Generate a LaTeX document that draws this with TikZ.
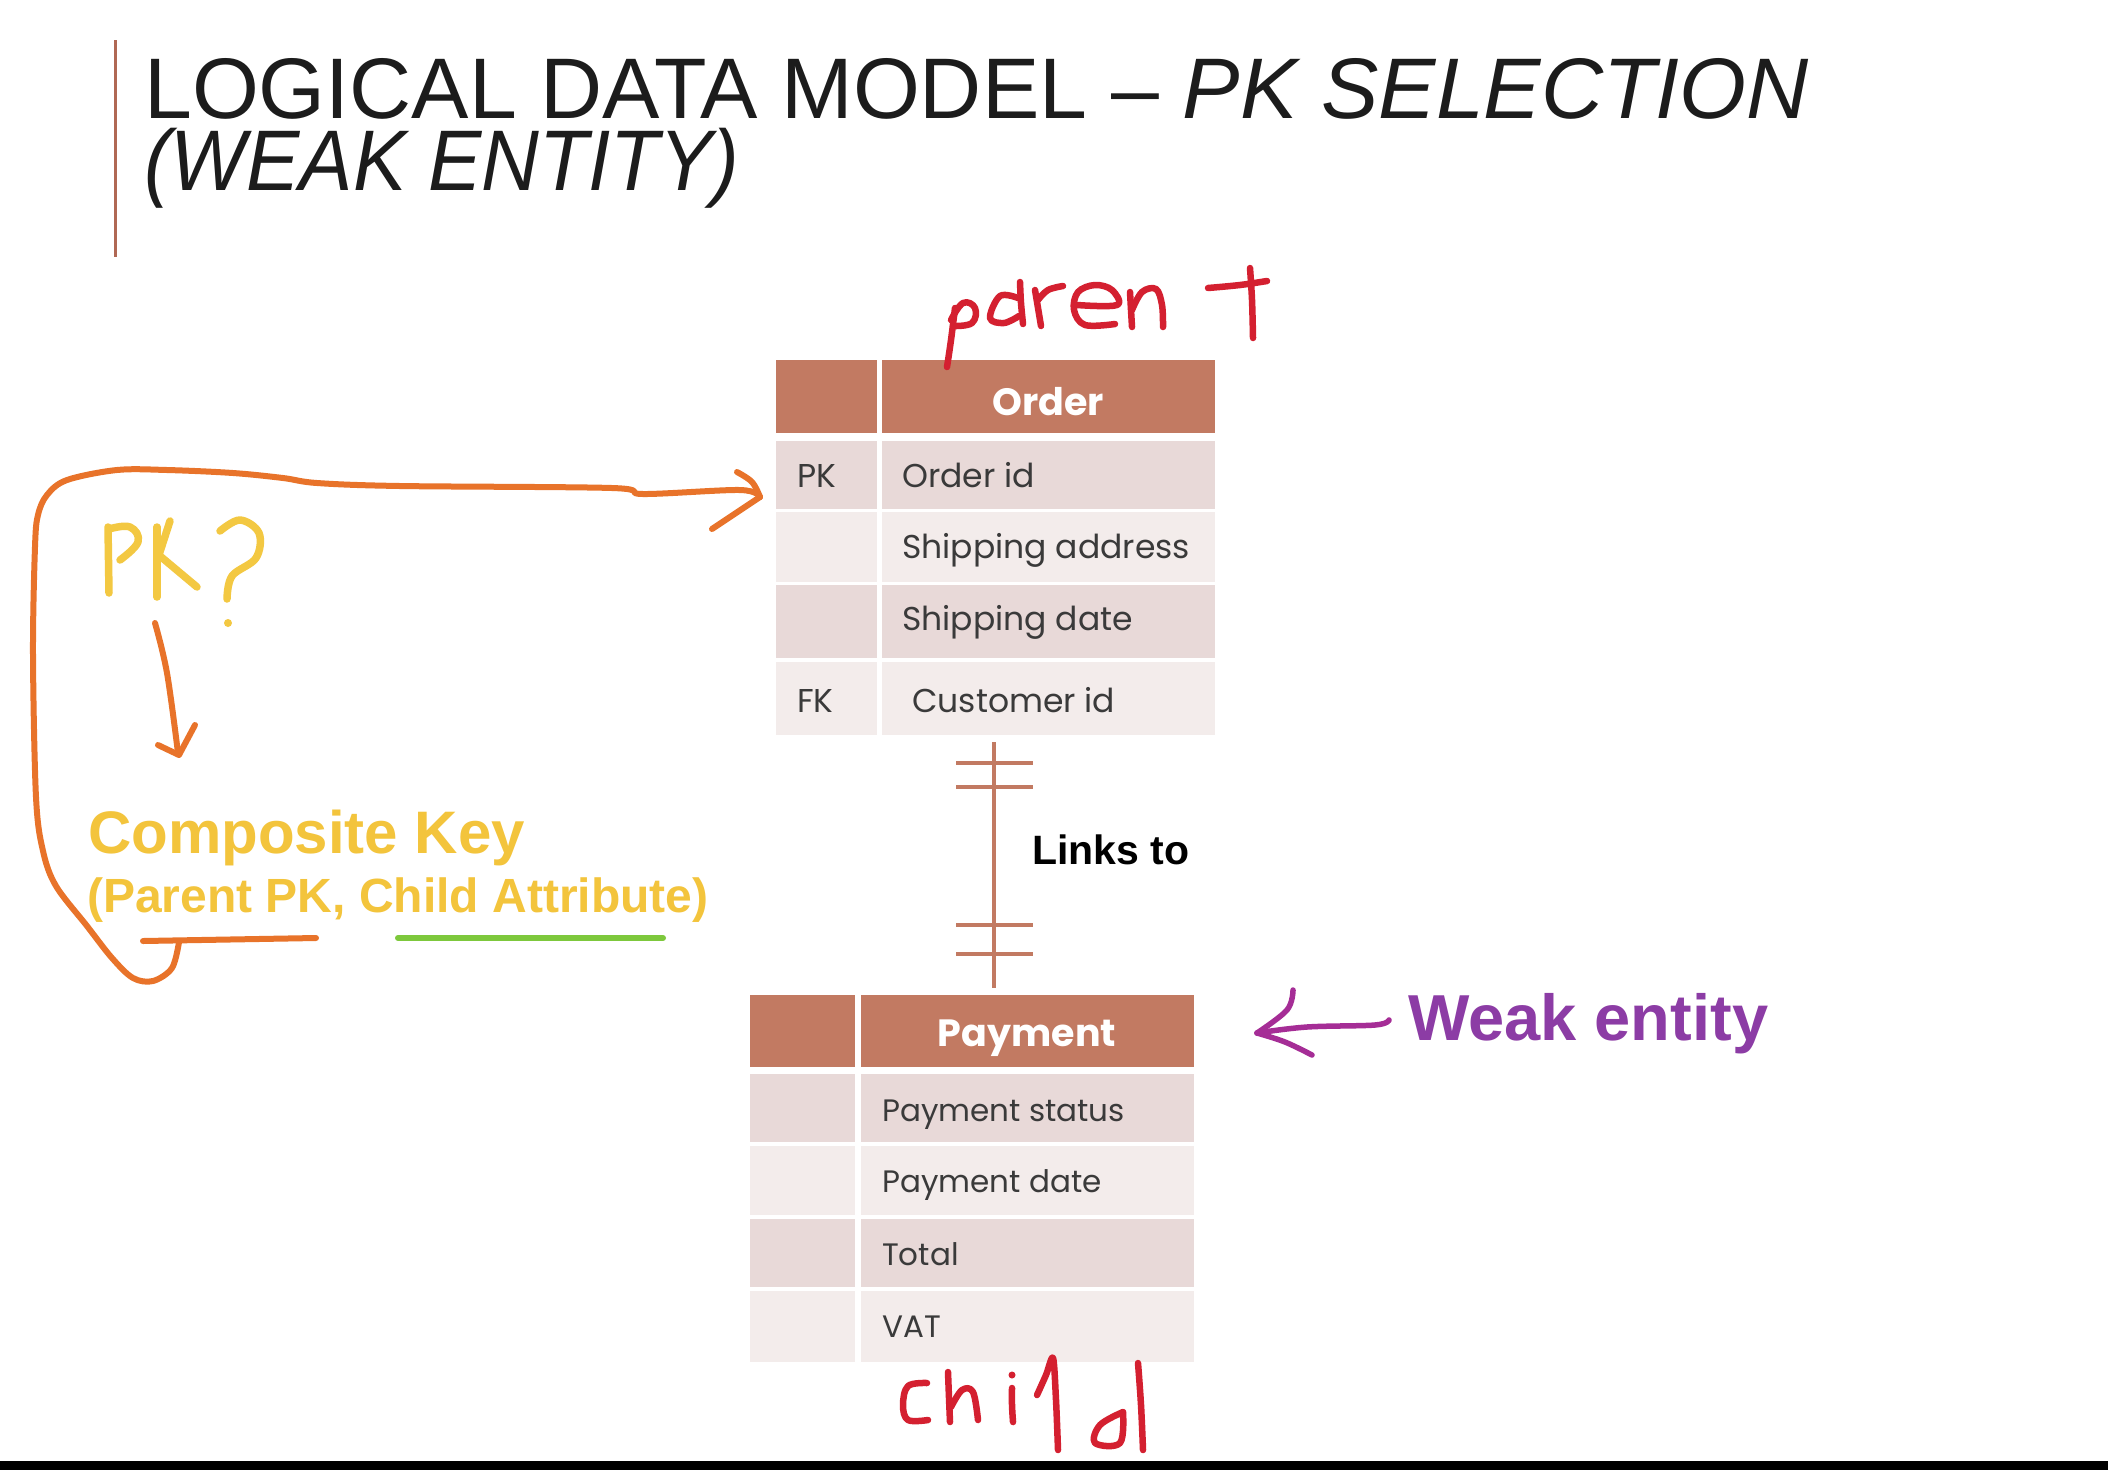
\documentclass[tikz,border=0pt]{standalone}
\usepackage{fontspec}
\setmainfont{Liberation Sans}
\newfontfamily\tabfont{Poppins}
\usetikzlibrary{calc}

\definecolor{hdr}{RGB}{194,122,98}
\definecolor{rowdark}{RGB}{232,217,216}
\definecolor{rowlight}{RGB}{243,236,235}
\definecolor{celltext}{RGB}{58,58,58}
\definecolor{titletext}{RGB}{28,28,28}
\definecolor{rulebrown}{RGB}{176,104,84}
\definecolor{penred}{RGB}{212,32,48}
\definecolor{penorange}{RGB}{232,115,42}
\definecolor{penyellow}{RGB}{243,200,66}
\definecolor{pengreen}{RGB}{125,200,60}
\definecolor{penpurple}{RGB}{165,45,150}
\definecolor{weakpurple}{RGB}{140,60,165}
\definecolor{keyyellow}{RGB}{243,196,60}

\newcommand{\fsz}[1]{\fontsize{#1}{#1}\selectfont}

\begin{document}
\begin{tikzpicture}[x=1pt,y=-1pt,
  cell/.style={draw=none, inner sep=0pt, outer sep=0pt, anchor=north west},
  hdrcell/.style={cell, fill=hdr},
  darkcell/.style={cell, fill=rowdark},
  lightcell/.style={cell, fill=rowlight},
  hdrtext/.style={text=white, font=\tabfont\bfseries\fsz{38}, anchor=base, inner sep=0pt},
  rowtext/.style={text=celltext, font=\tabfont\fsz{33}, anchor=base west, inner sep=0pt},
  prowtext/.style={rowtext, font=\tabfont\fsz{31}},
  erline/.style={draw=hdr, line width=3.5pt},
  pen/.style={line width=6.5pt, line cap=round, line join=round},
]
\useasboundingbox (0,0) rectangle (2108,1470);
\fill[white] (0,0) rectangle (2108,1470);
\fill[black] (0,1461) rectangle (2108,1470);

% ---------- title ----------
\draw[rulebrown, line width=3pt] (115,40) -- (115,257);
\node[anchor=base west, inner sep=0pt, text=titletext, font=\fsz{86}] (title) at (144,118)
  {\vtop{\baselineskip=72pt\lineskiplimit=-\maxdimen
     \hbox{LOGICAL DATA MODEL -- \textit{PK SELECTION}}
     \hbox{\scalebox{0.93}[1]{\itshape (WEAK ENTITY)}}}};

% ---------- Order table ----------
\node[hdrcell, minimum width=101pt, minimum height=73pt] (oh0) at (776,360) {};
\node[hdrcell, minimum width=333pt, minimum height=73pt] (oh1) at (882,360) {};
\node[hdrtext] (ohT) at (1048,415) {Order};

\node[darkcell,  minimum width=101pt, minimum height=68pt] (o1k) at (776,441) {};
\node[darkcell,  minimum width=333pt, minimum height=68pt] (o1v) at (882,441) {};
\node[lightcell, minimum width=101pt, minimum height=70pt] (o2k) at (776,512) {};
\node[lightcell, minimum width=333pt, minimum height=70pt] (o2v) at (882,512) {};
\node[darkcell,  minimum width=101pt, minimum height=73pt] (o3k) at (776,585) {};
\node[darkcell,  minimum width=333pt, minimum height=73pt] (o3v) at (882,585) {};
\node[lightcell, minimum width=101pt, minimum height=73pt] (o4k) at (776,662) {};
\node[lightcell, minimum width=333pt, minimum height=73pt] (o4v) at (882,662) {};

\node[rowtext] (o1kT) at (797,487) {PK};
\node[rowtext] (o1vT) at (902,487) {Order id};
\node[rowtext] (o2vT) at (902,558) {Shipping address};
\node[rowtext] (o3vT) at (902,630) {Shipping date};
\node[rowtext] (o4kT) at (797,712) {FK};
\node[rowtext] (o4vT) at (912,712) {Customer id};

% ---------- Payment table ----------
\node[hdrcell, minimum width=105pt, minimum height=72pt] (ph0) at (750,995) {};
\node[hdrcell, minimum width=333pt, minimum height=72pt] (ph1) at (861,995) {};
\node[hdrtext] (phT) at (1027,1046) {Payment};

\node[darkcell,  minimum width=105pt, minimum height=68pt] (p1k) at (750,1074) {};
\node[darkcell,  minimum width=333pt, minimum height=68pt] (p1v) at (861,1074) {};
\node[lightcell, minimum width=105pt, minimum height=69pt] (p2k) at (750,1146) {};
\node[lightcell, minimum width=333pt, minimum height=69pt] (p2v) at (861,1146) {};
\node[darkcell,  minimum width=105pt, minimum height=68pt] (p3k) at (750,1219) {};
\node[darkcell,  minimum width=333pt, minimum height=68pt] (p3v) at (861,1219) {};
\node[lightcell, minimum width=105pt, minimum height=71pt] (p4k) at (750,1291) {};
\node[lightcell, minimum width=333pt, minimum height=71pt] (p4v) at (861,1291) {};

\node[prowtext] (p1vT) at (882,1121) {Payment status};
\node[prowtext] (p2vT) at (882,1192) {Payment date};
\node[prowtext] (p3vT) at (882,1265) {Total};
\node[prowtext] (p4vT) at (882,1337) {VAT};

% ---------- one-to-one link ----------
\coordinate (lnkTop) at (994,742);
\coordinate (lnkBot) at (994,988);
\draw[erline] (lnkTop) -- (lnkBot);
\draw[erline] ($(lnkTop)+(-38,21)$) -- ++(77,0);
\draw[erline] ($(lnkTop)+(-38,45)$) -- ++(77,0);
\draw[erline] ($(lnkBot)+(-38,-63)$) -- ++(77,0);
\draw[erline] ($(lnkBot)+(-38,-34)$) -- ++(77,0);
\node[anchor=base west, inner sep=0pt, font=\bfseries\fsz{41}] (lnkT) at (1032,864) {Links to};

% ---------- weak entity note ----------
\node[anchor=base west, inner sep=0pt, text=weakpurple, font=\bfseries\fsz{65}] (weakT) at (1408,1040) {Weak entity};
\begin{scope}[pen, penpurple, line width=5.5pt]
  \draw plot[smooth, tension=0.6] coordinates {(1389,1020) (1375,1025) (1307,1027) (1257,1033)};
  \draw plot[smooth, tension=0.6] coordinates {(1293,990) (1287,1010) (1257,1033)};
  \draw plot[smooth, tension=0.6] coordinates {(1257,1033) (1285,1042) (1312,1055)};
\end{scope}

% ---------- handwritten "parent" ----------
\begin{scope}[pen, penred]
  \draw plot[smooth, tension=0.6] coordinates {(955,308) (951,340) (947,367)};
  \draw plot[smooth, tension=0.7] coordinates {(951,320) (963,303) (975,308) (972,323) (953,326)};
  \draw plot[smooth, tension=0.6] coordinates {(1018,298) (1000,296) (990,318) (1004,323) (1019,316)};
  \draw plot[smooth, tension=0.6] coordinates {(1020,282) (1021,303) (1023,324)};
  \draw plot[smooth, tension=0.6] coordinates {(1035,290) (1038,308) (1041,326)};
  \draw plot[smooth, tension=0.6] coordinates {(1038,300) (1048,290) (1063,286)};
  \draw plot[smooth, tension=0.6] coordinates {(1077,305) (1117,305) (1112,290) (1095,285) (1078,292) (1074,310) (1085,325) (1115,324)};
  \draw plot[smooth, tension=0.6] coordinates {(1130,292) (1131,310) (1132,327)};
  \draw plot[smooth, tension=0.6] coordinates {(1132,310) (1142,292) (1156,289) (1162,305) (1163,327)};
  \draw plot[smooth, tension=0.6] coordinates {(1250,268) (1252,300) (1253,338)};
  \draw plot[smooth, tension=0.6] coordinates {(1208,288) (1240,285) (1267,281)};
\end{scope}

% ---------- handwritten "child" ----------
\begin{scope}[pen, penred]
  \draw plot[smooth, tension=0.6] coordinates {(927,1383) (908,1386) (903,1405) (908,1420) (928,1420)};
  \draw plot[smooth, tension=0.6] coordinates {(948,1372) (949,1398) (950,1422)};
  \draw plot[smooth, tension=0.6] coordinates {(951,1407) (962,1390) (973,1392) (978,1420)};
  \draw plot[smooth, tension=0.6] coordinates {(1012,1388) (1012,1405) (1013,1422)};
  \fill (1012,1375) circle (3.5);
  \draw plot[smooth, tension=0.5] coordinates {(1037,1395) (1046,1375) (1053,1358) (1056,1400) (1058,1450)};
  \draw plot[smooth, tension=0.6] coordinates {(1123,1412) (1100,1425) (1095,1443) (1120,1443) (1123,1412)};
  \draw plot[smooth, tension=0.6] coordinates {(1138,1363) (1141,1405) (1143,1450)};
\end{scope}

% ---------- handwritten "PK?" ----------
\begin{scope}[pen, penyellow, line width=7.5pt]
  \draw (108,527) -- (109,593);
  \draw plot[smooth, tension=0.7] coordinates {(109,529) (130,527) (138,542) (120,560)};
  \draw (157,527) -- (157,597);
  \draw (170,521) -- (158,558);
  \draw (160,556) -- (197,587);
  \draw plot[smooth, tension=0.6] coordinates {(220,531) (240,520) (259,533) (256,558) (232,576) (227,599)};
  \fill (228,623) circle (4);
\end{scope}

% ---------- orange annotations ----------
\begin{scope}[pen, penorange, line width=6pt]
  \draw plot[smooth, tension=0.6] coordinates {(155,623) (167,673) (178,753)};
  \draw (158,745) -- (179,755) -- (195,725);
  \draw plot[smooth, tension=0.55] coordinates {
    (179,942) (172,968) (153,981) (133,978) (112,958) (87,926) (56,886) (43,851)
    (36,797) (33,654) (35,547) (38,515) (47,495) (67,480) (117,470) (167,470)
    (233,473) (283,478) (317,483) (400,486) (612,488) (643,494) (740,490) (760,497)};
  \draw plot[smooth, tension=0.6] coordinates {(737,472) (752,482) (760,497)};
  \draw (760,497) -- (712,529);
  \draw (143,941) -- (316,938);
\end{scope}
\draw[pen, pengreen, line width=6pt] (398,938) -- (663,938);

% ---------- composite key text ----------
\node[anchor=base west, inner sep=0pt, text=keyyellow, font=\bfseries\fsz{60}] (ckT) at (88,853) {Composite Key};
\node[anchor=base west, inner sep=0pt, text=keyyellow, font=\bfseries\fsz{48}] (ckS) at (87,912) {(Parent PK, Child Attribute)};
\end{tikzpicture}
\end{document}
